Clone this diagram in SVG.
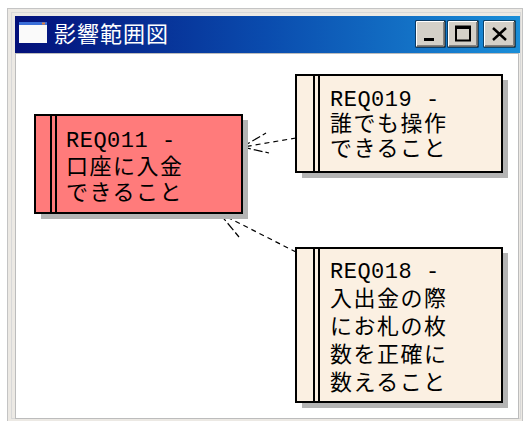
<svg xmlns="http://www.w3.org/2000/svg" width="523" height="421" viewBox="0 0 523 421">
<defs>
<linearGradient id="tb" x1="0" y1="0" x2="1" y2="0">
<stop offset="0" stop-color="#03107a"/>
<stop offset="0.5" stop-color="#0a4cae"/>
<stop offset="1" stop-color="#1a8ed8"/>
</linearGradient>
<style>
.shadow{fill:#b4b4b4}
.box{stroke:#000;stroke-width:2}
.req{fill:#fbf0e2}
.main{fill:#ff7b7b}
.bar{stroke:#000;stroke-width:2}
.t{font-family:"Liberation Mono","Noto Sans CJK JP",monospace;font-size:22px;letter-spacing:1.5px;fill:#000}
.lat{letter-spacing:0.5px}
.con{fill:none;stroke:#000;stroke-width:1.2;stroke-dasharray:5 4}
.head{fill:none;stroke:#000;stroke-width:1.2;stroke-dasharray:9 3}
.btn{fill:#d4d0c8}
</style>
</defs>
<rect x="0" y="0" width="523" height="421" fill="#fff"/>
<g id="window">
<rect x="7.5" y="8.5" width="515" height="413" fill="#ece9e4" stroke="#c4c4c4"/>
<rect x="11.5" y="12.5" width="509" height="406" fill="none" stroke="#d8d8d8"/>
<rect x="15" y="16" width="505" height="37" fill="url(#tb)"/>
<rect x="19" y="22" width="28" height="21" fill="#fafafa"/>
<rect x="19" y="22" width="28" height="3" fill="#3a6ed8"/>
<rect x="42" y="22.5" width="3" height="2" fill="#e08040"/>
<text x="54" y="42" font-family="'Noto Sans CJK JP',sans-serif" font-size="22" fill="#fff" letter-spacing="1">影響範囲図</text>
<g id="btn-min">
<rect x="416" y="21" width="29" height="26" class="btn" stroke="#000"/>
<path d="M416.5 46.5V21.5H444" fill="none" stroke="#fff"/>
<path d="M417 45.5H443.5V22" fill="none" stroke="#808080"/>
<rect x="424" y="38" width="10" height="3" fill="#000"/>
</g>
<g id="btn-max">
<rect x="448" y="21" width="30" height="26" class="btn" stroke="#000"/>
<path d="M448.5 46.5V21.5H477" fill="none" stroke="#fff"/>
<path d="M449 45.5H476.5V22" fill="none" stroke="#808080"/>
<rect x="456" y="26.5" width="14" height="14" fill="none" stroke="#000" stroke-width="2"/>
<rect x="456" y="26" width="14" height="3" fill="#000"/>
</g>
<g id="btn-close">
<rect x="484" y="21" width="31" height="26" class="btn" stroke="#000"/>
<path d="M484.5 46.5V21.5H514" fill="none" stroke="#fff"/>
<path d="M485 45.5H513.5V22" fill="none" stroke="#808080"/>
<path d="M493 28L506 40M506 28L493 40" stroke="#000" stroke-width="2.4"/>
</g>
<rect x="15.5" y="53.5" width="503" height="365" fill="#fff" stroke="#bcbcbc"/>
</g>
<g id="connectors">
<g id="c1">
<path class="con" d="M296 138L246 146.5"/>
<path class="head" d="M242 147L266 133M242 147L269 153"/>
<rect x="241" y="145" width="6" height="3.5" fill="#000"/>
</g>
<g id="c2">
<path class="con" d="M296 252L225 216"/>
<path class="head" d="M220 214L248 218M220 214L239 237"/>
<rect x="220" y="212.5" width="6" height="3.5" fill="#000"/>
</g>
</g>
<g id="REQ011">
<rect class="shadow" x="41" y="120" width="207" height="99"/>
<rect class="box main" x="35" y="115" width="207" height="98"/>
<path class="bar" d="M51 115V213M56 115V213"/>
<text class="t"><tspan class="lat" x="66" y="147">REQ011 -</tspan><tspan x="66" y="174">口座に入金</tspan><tspan x="66" y="200">できること</tspan></text>
</g>
<g id="REQ019">
<rect class="shadow" x="302" y="80" width="206" height="98"/>
<rect class="box req" x="296" y="75" width="206" height="97"/>
<path class="bar" d="M314 75V172M319 75V172"/>
<text class="t"><tspan class="lat" x="330" y="106">REQ019 -</tspan><tspan x="330" y="131">誰でも操作</tspan><tspan x="330" y="156">できること</tspan></text>
</g>
<g id="REQ018">
<rect class="shadow" x="302" y="253" width="206" height="155"/>
<rect class="box req" x="296" y="248" width="206" height="154"/>
<path class="bar" d="M314 248V402M319 248V402"/>
<text class="t"><tspan class="lat" x="330" y="278">REQ018 -</tspan><tspan x="330" y="306">入出金の際</tspan><tspan x="330" y="334">にお札の枚</tspan><tspan x="330" y="362">数を正確に</tspan><tspan x="330" y="390">数えること</tspan></text>
</g>
</svg>
